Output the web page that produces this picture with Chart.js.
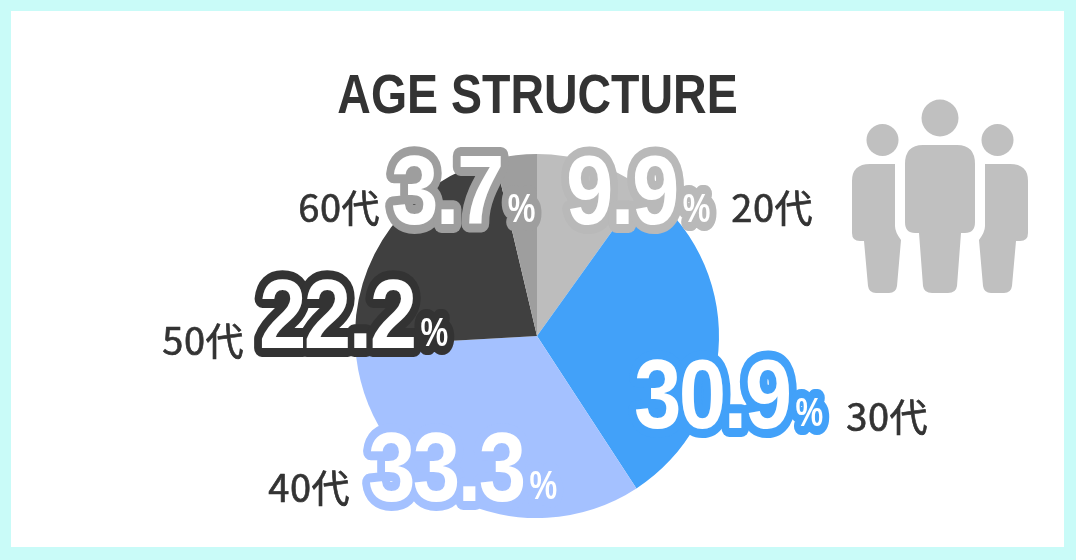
<!DOCTYPE html>
<html>
<head>
<meta charset="utf-8">
<script src="https://cdn.jsdelivr.net/npm/chart.js@4"></script>
<style>
  html, body { margin: 0; padding: 0; background: #c9fbf8; }
  #frame { position: absolute; left: 11px; top: 11px; width: 1053px; height: 536px; background: #fff; }
  #chart { position: absolute; left: 0; top: 0; }
  #people { position: absolute; left: 840px; top: 91px; }
</style>
</head>
<body>
<div id="frame"></div>
<canvas id="chart" width="1076" height="560" style="width:1076px;height:560px"></canvas>
<svg id="people" width="200" height="210" viewBox="0 0 200 210" fill="#c0c0c0">
  <circle cx="100" cy="27" r="18.5"/>
  <circle cx="42.5" cy="49" r="16"/>
  <circle cx="157.5" cy="49" r="16"/>
  <path d="M65 73 Q65 54 83 54 L117 54 Q135 54 135 73 L135 131 Q135 142 125 142 L121 142 L117 195 Q116 202 108 202 L92 202 Q84 202 83 195 L79 142 L75 142 Q65 142 65 131 Z"/>
  <path d="M55 73 L55 135 Q55 141 61 149 L57 195 Q56 202 49 202 L36 202 Q29 202 28 195 L24 150 L20 150 Q12 150 12 142 L12 90 Q12 73 30 73 Z"/>
  <path d="M145 73 L145 135 Q145 141 139 149 L143 195 Q144 202 151 202 L164 202 Q171 202 172 195 L176 150 L180 150 Q188 150 188 142 L188 90 Q188 73 170 73 Z"/>
</svg>
<script>
const titleText = 'AGE STRUCTURE';
const categories = ['20代', '30代', '40代', '50代', '60代'];
const shares = [9.9, 30.9, 33.3, 22.2, 3.7];
const sliceColors = ['#bdbdbd', '#42a1f9', '#a4c1ff', '#404040', '#9e9e9e'];
const outlineColors = ['#b9b9b9', '#42a1f9', '#a4c1ff', '#333333', '#9e9e9e'];

// where each label sits: ageX is the right end of the age text, numX the left end of the number
const labelSpots = [
  { ageX: 813, ageY: 222, numX: 566, numY: 224 },
  { ageX: 928, ageY: 431, numX: 634, numY: 428 },
  { ageX: 350, ageY: 502, numX: 368, numY: 501 },
  { ageX: 244, ageY: 355, numX: 259, numY: 348 },
  { ageX: 380, ageY: 222, numX: 391, numY: 224 }
];

const NUM_FONT = 'bold 98px "Liberation Sans", sans-serif';
const PCT_FONT = 'bold 41px "Liberation Sans", sans-serif';
const AGE_FONT = '38px "Noto Sans CJK JP", sans-serif';
const NUM_SCALE = 0.87;
const PCT_SCALE = 0.76;

// text squeezed horizontally, the reference uses a condensed look
function squeezed(ctx, text, x, y, scaleX, stroke) {
  ctx.save();
  ctx.translate(x, y);
  ctx.scale(scaleX, 1);
  if (stroke) ctx.strokeText(text, 0, 0);
  else ctx.fillText(text, 0, 0);
  ctx.restore();
}

const labelPlugin = {
  id: 'labelPlugin',
  afterDraw(chart) {
    const ctx = chart.ctx;
    ctx.save();
    ctx.lineJoin = 'round';
    ctx.textBaseline = 'alphabetic';

    ctx.textAlign = 'center';
    ctx.fillStyle = '#333333';
    ctx.font = 'bold 56px "Liberation Sans", sans-serif';
    squeezed(ctx, titleText, 537.5, 113, 0.83, false);

    shares.forEach((share, i) => {
      const spot = labelSpots[i];
      ctx.textAlign = 'right';
      ctx.fillStyle = '#333333';
      ctx.strokeStyle = '#333333';
      ctx.lineWidth = 0.7;
      ctx.font = AGE_FONT;
      ctx.letterSpacing = '0.5px';
      ctx.fillText(categories[i], spot.ageX, spot.ageY);
      ctx.strokeText(categories[i], spot.ageX, spot.ageY);

      ctx.textAlign = 'left';
      const num = share.toFixed(1);
      ctx.font = NUM_FONT;
      ctx.letterSpacing = '-3px';
      const pctX = spot.numX + ctx.measureText(num).width * NUM_SCALE + 6;

      ctx.strokeStyle = outlineColors[i];
      ctx.lineWidth = 18;
      squeezed(ctx, num, spot.numX, spot.numY, NUM_SCALE, true);
      ctx.fillStyle = '#ffffff';
      squeezed(ctx, num, spot.numX, spot.numY, NUM_SCALE, false);

      ctx.font = PCT_FONT;
      ctx.letterSpacing = '0px';
      squeezed(ctx, '%', pctX, spot.numY - 2, PCT_SCALE, true);
      squeezed(ctx, '%', pctX, spot.numY - 2, PCT_SCALE, false);
    });
    ctx.restore();
  }
};

new Chart(document.getElementById('chart').getContext('2d'), {
  type: 'pie',
  data: {
    labels: categories,
    datasets: [{
      data: shares,
      backgroundColor: sliceColors,
      borderWidth: 0
    }]
  },
  options: {
    responsive: false,
    animation: false,
    layout: { padding: { left: 0, right: 2, top: 154, bottom: 42 } },
    plugins: {
      legend: { display: false },
      tooltip: { enabled: false }
    }
  },
  plugins: [labelPlugin]
});
</script>
</body>
</html>
